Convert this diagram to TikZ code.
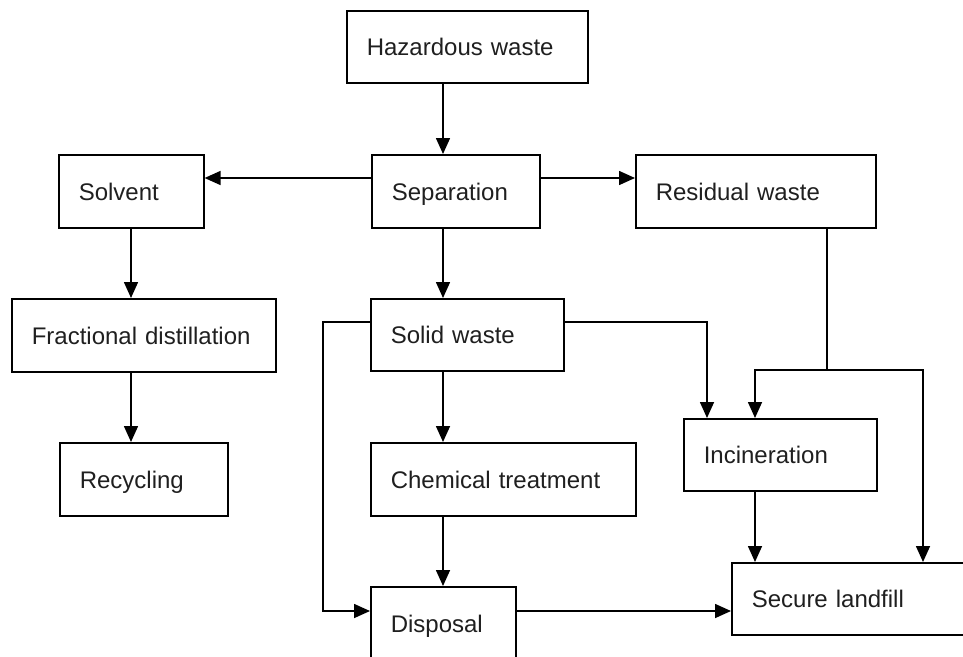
\documentclass[tikz,border=0pt]{standalone}
\usepackage{fontspec}
\setmainfont{Liberation Sans}
\usetikzlibrary{arrows.meta}
\begin{document}
\begin{tikzpicture}[x=1pt,y=-1pt,
  box/.style={draw, line width=1.6pt, anchor=north west, inner xsep=20pt, inner ysep=0pt,
    align=left, text height=18pt, text depth=0pt, font=\fontsize{24}{28}\selectfont, text=black!88},
  conn/.style={line width=1.6pt},
  arr/.style={line width=1.6pt, -{Triangle[length=16pt,width=14pt]}}]
\useasboundingbox (0,0) rectangle (963,656);
\clip (0,0) rectangle (963,656);
% nodes
\node[box, minimum width=241pt, minimum height=72pt, text width=201pt] (haz) at (346,10) {Hazardous waste};
\node[box, minimum width=168pt, minimum height=73pt, text width=128pt] (sep) at (371,154) {Separation};
\node[box, minimum width=145pt, minimum height=73pt, text width=105pt] (solv) at (58,154) {Solvent};
\node[box, minimum width=240pt, minimum height=73pt, text width=200pt] (res) at (635,154) {Residual waste};
\node[box, minimum width=264pt, minimum height=73pt, text width=224pt] (frac) at (11,298) {Fractional distillation};
\node[box, minimum width=193pt, minimum height=72pt, text width=153pt] (solid) at (370,298) {Solid waste};
\node[box, minimum width=168pt, minimum height=73pt, text width=128pt] (recyc) at (59,442) {Recycling};
\node[box, minimum width=265pt, minimum height=73pt, text width=225pt] (chem) at (370,442) {Chemical treatment};
\node[box, minimum width=193pt, minimum height=72pt, text width=153pt] (incin) at (683,418) {Incineration};
\node[box, minimum width=145pt, minimum height=73pt, text width=105pt] (disp) at (370,586) {Disposal};
\node[box, minimum width=240pt, minimum height=72pt, text width=200pt] (land) at (731,562) {Secure landfill};
% helper coordinates
\coordinate (ax) at (443,0);
\coordinate (ay) at (0,178);
\coordinate (bx) at (131,0);
\coordinate (cy) at (0,322);
\coordinate (lx) at (323,0);
\coordinate (dy) at (0,611);
\coordinate (ix) at (707,0);
\coordinate (rx) at (827,0);
\coordinate (jy) at (0,370);
\coordinate (kx) at (755,0);
\coordinate (mx) at (923,0);
% connectors
\draw[arr] (haz.south -| ax) -- (sep.north -| ax);
\draw[arr] (sep.west |- ay) -- (solv.east |- ay);
\draw[arr] (sep.east |- ay) -- (res.west |- ay);
\draw[arr] (sep.south -| ax) -- (solid.north -| ax);
\draw[arr] (solv.south -| bx) -- (frac.north -| bx);
\draw[arr] (frac.south -| bx) -- (recyc.north -| bx);
\draw[arr] (solid.south -| ax) -- (chem.north -| ax);
\draw[arr] (chem.south -| ax) -- (disp.north -| ax);
\draw[arr] (solid.west |- cy) -| (lx |- dy) -- (disp.west |- dy);
\draw[arr] (solid.east |- cy) -| (incin.north -| ix);
\draw[conn] (res.south -| rx) -- (rx |- jy) coordinate (j);
\draw[arr] (j) -| (incin.north -| kx);
\draw[arr] (j) -| (land.north -| mx);
\draw[arr] (incin.south -| kx) -- (land.north -| kx);
\draw[arr] (disp.east |- dy) -- (land.west |- dy);
\end{tikzpicture}
\end{document}
